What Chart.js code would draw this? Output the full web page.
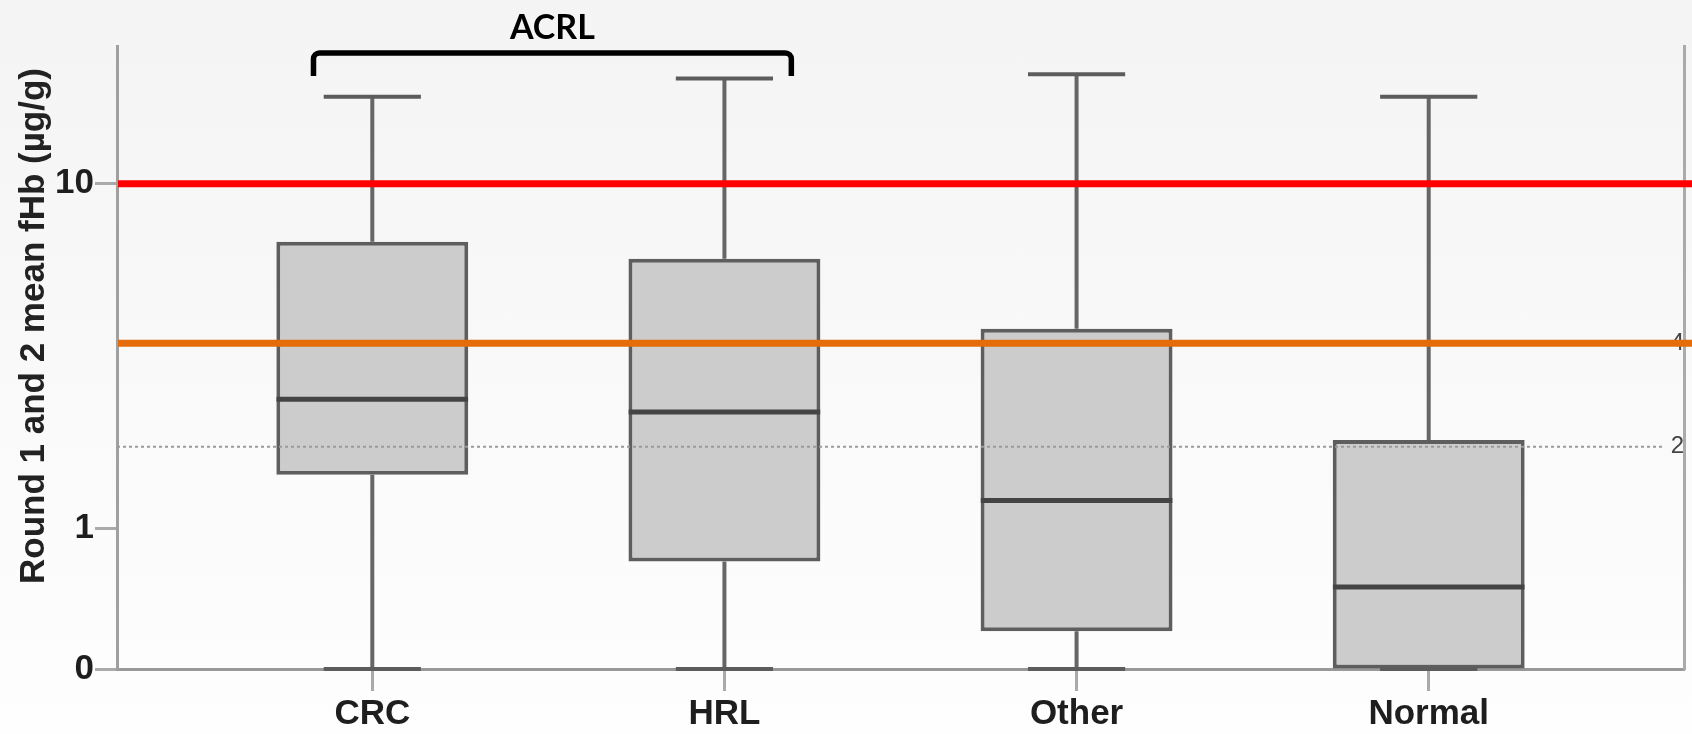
<!DOCTYPE html>
<html>
<head>
<meta charset="utf-8">
<script src="https://cdn.jsdelivr.net/npm/chart.js@4/dist/chart.umd.min.js"></script>
<style>
  html, body { margin: 0; padding: 0; }
  body { width: 1692px; height: 734px; background: linear-gradient(#f4f4f4, #fefefe); overflow: hidden; }
  canvas { display: block; }
</style>
</head>
<body>
<canvas id="chart" width="1692" height="734"></canvas>
<script>
// Box plot values (µg/g)
const categories  = ['CRC', 'HRL', 'Other', 'Normal'];
const lowWhisker  = [0, 0, 0, 0];
const q1          = [1.61, 0.70, 0.205, 0];
const medians     = [2.79, 2.56, 1.30, 0.50];
const q3          = [7.26, 6.59, 4.37, 2.10];
const highWhisker = [15.9, 17.5, 17.9, 15.9];

const leftTicks  = [0, 1, 10];
const rightTicks = [2, 4];
const cutRed = 10, cutOrange = 4, cutDotted = 2;

const FONT = '"Liberation Sans", Arial, sans-serif';
// axis is log10(value + 1)
const tf = v => Math.log10(v + 1);

const boxData = categories.map((c, i) => ({ x: i + 1, y: [tf(q1[i]), tf(q3[i])] }));

const boxPlugin = {
  id: 'boxExtras',
  afterDatasetsDraw(chart) {
    const { ctx, chartArea: area, scales: { x, y } } = chart;
    const capHalf = 0.138;
    ctx.save();
    ctx.lineCap = 'butt';

    // whiskers + caps
    categories.forEach((c, i) => {
      const cx = x.getPixelForValue(i + 1);
      ctx.strokeStyle = '#666';
      ctx.lineWidth = 4;
      ctx.beginPath();
      ctx.moveTo(cx, y.getPixelForValue(tf(highWhisker[i])));
      ctx.lineTo(cx, y.getPixelForValue(tf(q3[i])));
      if (q1[i] > lowWhisker[i]) {
        ctx.moveTo(cx, y.getPixelForValue(tf(q1[i])));
        ctx.lineTo(cx, y.getPixelForValue(tf(lowWhisker[i])));
      }
      ctx.stroke();
      ctx.strokeStyle = '#5c5c5c';
      ctx.beginPath();
      [highWhisker[i], lowWhisker[i]].forEach(v => {
        const py = y.getPixelForValue(tf(v));
        ctx.moveTo(x.getPixelForValue(i + 1 - capHalf), py);
        ctx.lineTo(x.getPixelForValue(i + 1 + capHalf), py);
      });
      ctx.stroke();
      // median
      ctx.strokeStyle = '#444';
      ctx.lineWidth = 5;
      ctx.beginPath();
      const my = y.getPixelForValue(tf(medians[i]));
      ctx.moveTo(x.getPixelForValue(i + 1 - 0.272), my);
      ctx.lineTo(x.getPixelForValue(i + 1 + 0.272), my);
      ctx.stroke();
    });

    // dotted reference at 2
    ctx.strokeStyle = '#9a9a9a';
    ctx.lineWidth = 2;
    ctx.setLineDash([3, 3]);
    ctx.beginPath();
    const dy = y.getPixelForValue(tf(cutDotted));
    ctx.moveTo(area.left, dy);
    ctx.lineTo(area.right - 20, dy);
    ctx.stroke();
    ctx.setLineDash([]);

    // orange and red cut-offs
    [[cutOrange, '#e46c0a'], [cutRed, '#ff0000']].forEach(([v, col]) => {
      const py = y.getPixelForValue(tf(v));
      ctx.strokeStyle = col;
      ctx.lineWidth = 7;
      ctx.beginPath();
      ctx.moveTo(area.left + 1, py);
      ctx.lineTo(chart.width, py);
      ctx.stroke();
    });

    // ACRL bracket over CRC and HRL
    const xL = x.getPixelForValue(0.833), xR = x.getPixelForValue(2.19);
    const yT = area.top + 7, yB = area.top + 30, r = 6;
    ctx.strokeStyle = '#000';
    ctx.lineWidth = 5.5;
    ctx.beginPath();
    ctx.moveTo(xL, yB);
    ctx.lineTo(xL, yT + r);
    ctx.arcTo(xL, yT, xL + r, yT, r);
    ctx.lineTo(xR - r, yT);
    ctx.arcTo(xR, yT, xR, yT + r, r);
    ctx.lineTo(xR, yB);
    ctx.stroke();
    ctx.fillStyle = '#000';
    ctx.font = 'bold 34px Lato, "Open Sans", sans-serif';
    ctx.textAlign = 'center';
    ctx.textBaseline = 'alphabetic';
    ctx.fillText('ACRL', (xL + xR) / 2, 39);

    // y-axis title
    ctx.save();
    ctx.translate(34, 326);
    ctx.rotate(-Math.PI / 2);
    ctx.font = 'bold 35px ' + FONT;
    ctx.fillStyle = '#222';
    ctx.textBaseline = 'middle';
    ctx.fillText('Round 1 and 2 mean fHb (µg/g)', 0, 0);
    ctx.restore();

    ctx.restore();
  }
};

new Chart(document.getElementById('chart').getContext('2d'), {
  type: 'bar',
  data: {
    datasets: [{
      data: boxData,
      backgroundColor: '#cccccc',
      borderColor: '#5e5e5e',
      borderWidth: 4,
      borderSkipped: false,
      barPercentage: 0.545,
      categoryPercentage: 1
    }]
  },
  options: {
    responsive: false,
    animation: false,
    devicePixelRatio: 1,
    layout: { padding: { top: 46, right: 8, left: 0, bottom: 0 } },
    plugins: { legend: { display: false }, tooltip: { enabled: false } },
    scales: {
      x: {
        type: 'linear',
        offset: false,
        min: 0.275,
        max: 4.725,
        afterBuildTicks: s => { s.ticks = categories.map((c, i) => ({ value: i + 1 })); },
        afterFit: s => { s.height = 65; },
        ticks: {
          callback: v => categories[v - 1],
          color: '#1e1e1e',
          font: { family: FONT, size: 35, weight: 'bold' },
          padding: 2,
          maxRotation: 0,
          autoSkip: false
        },
        grid: { offset: false, drawOnChartArea: false, drawTicks: true, tickLength: 22, tickColor: '#aaa', tickWidth: 3 },
        border: { color: '#999', width: 3 }
      },
      y: {
        type: 'linear',
        position: 'left',
        min: 0,
        max: 1.337,
        afterBuildTicks: s => { s.ticks = leftTicks.map(v => ({ value: tf(v) })); },
        afterFit: s => { s.width = 117; },
        ticks: {
          callback: (v, i) => String(leftTicks[i]),
          color: '#1e1e1e',
          font: { family: FONT, size: 35, weight: 'bold' },
          padding: 1
        },
        grid: { drawOnChartArea: false, drawTicks: true, tickLength: 22, tickColor: '#aaa', tickWidth: 3 },
        border: { color: '#a0a0a0', width: 3 }
      },
      y2: {
        type: 'linear',
        position: 'right',
        min: 0,
        max: 1.337,
        afterBuildTicks: s => { s.ticks = rightTicks.map(v => ({ value: tf(v) })); },
        afterFit: s => { s.width = 0; },
        ticks: {
          mirror: true,
          callback: (v, i) => String(rightTicks[i]),
          color: '#444',
          font: { family: FONT, size: 24 },
          padding: 0
        },
        grid: { drawOnChartArea: false, drawTicks: false },
        border: { color: '#aaa', width: 3 }
      }
    }
  },
  plugins: [boxPlugin]
});
</script>
</body>
</html>
